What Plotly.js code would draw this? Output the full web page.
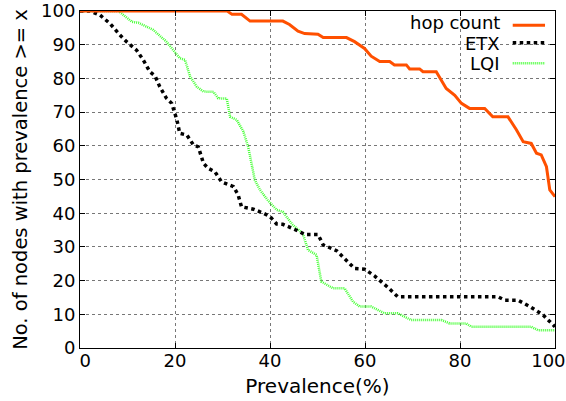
<!DOCTYPE html>
<html>
<head>
<meta charset="utf-8">
<script src="https://cdn.plot.ly/plotly-3.0.1.min.js"></script>
<style>html,body{margin:0;padding:0;background:#fff}#chart{width:566px;height:401px}</style>
</head>
<body>
<div id="chart"></div>
<script>
// Hop count series
const hopX = [0, 31, 32, 34, 35.8, 42.7, 44.1, 45.9, 47.3, 50.1, 51.2, 56.1, 57.8, 59.9, 61.3, 63.1, 65.2, 66.2, 68.7, 69.4, 71.5, 72.2, 75, 77.1, 78.9, 80.3, 82, 85.2, 86.9, 90.1, 91.9, 93.3, 95, 96.1, 97.1, 98.2, 98.9, 100];
const hopY = [100, 100, 99, 99, 97, 97, 96, 94, 93.3, 93.1, 92.1, 92.1, 90.9, 88.9, 86.6, 85, 85, 84, 84, 82.8, 82.8, 82, 82, 77, 75, 72.6, 71.1, 71.1, 68.6, 68.6, 64.7, 61.2, 60.7, 57.8, 57.3, 53.8, 46.9, 44.9];

// ETX series
const etxX = [0, 2.1, 4.2, 6.3, 8.4, 9.8, 11.9, 13.3, 14.7, 15.8, 16.8, 18.2, 19.3, 20.4, 21, 22.5, 23.9, 24.9, 26, 27, 28.4, 29.8, 32.3, 33.3, 34, 36.5, 38.6, 40, 41.4, 42.7, 45.5, 47.3, 50.1, 51.2, 54, 57.8, 59.9, 62, 64.8, 66.9, 88, 89.4, 92.2, 94.7, 97.5, 100];
const etxY = [100, 100, 98.8, 96.3, 92.9, 90.9, 88.4, 85.5, 82, 80.7, 77.5, 74.1, 72.6, 67.7, 63.7, 63.2, 60.2, 59.7, 54.8, 53.3, 52.3, 49.3, 47.9, 45.4, 41.9, 41.2, 40, 39, 36.8, 36.7, 35, 33.7, 33.7, 30.6, 28.9, 23.6, 23.4, 21.4, 18, 15.2, 15.2, 14.2, 14.2, 12.3, 9.8, 6.3];

// LQI series
const lqiX = [0, 8.1, 10.9, 12.3, 14.7, 15.4, 18.2, 19.6, 21, 22.1, 23.2, 24.6, 26, 28.1, 29.1, 30.9, 31.6, 33, 34.4, 35.4, 36.8, 37.9, 39.5, 41.4, 42.7, 44.8, 46.9, 48, 49.8, 50.8, 53.3, 55.7, 57.5, 58.9, 61.3, 62.7, 64.1, 66.9, 69.7, 76.1, 77.8, 81.3, 82.4, 95, 96.4, 100];
const lqiY = [100, 100, 96.8, 96.5, 94.9, 94.4, 90.9, 88.4, 86, 85.5, 80.5, 77.5, 76.1, 76, 74.1, 74, 68.6, 67.7, 64.2, 59.7, 49.9, 46.9, 43.9, 41, 40.4, 36.5, 34, 29.1, 27.6, 19.7, 17.7, 17.7, 13.7, 12.3, 12.3, 11.3, 10.3, 10.3, 8.3, 8.3, 7.3, 7.3, 6.3, 6.3, 5.3, 5.3];

const seriesNames = ['hop count', 'ETX', 'LQI'];
const xTicks = [0, 20, 40, 60, 80, 100];
const xTickLabels = ['0', '20', '40', '60', '80', '100'];
// label anchor positions (edge labels nudged inward, as in the reference)
const xLabelPos = [1.1, 20, 40, 60, 80, 98.6];
const yTicks = [0, 10, 20, 30, 40, 50, 60, 70, 80, 90, 100];

const hopColor = '#ff5000';
const etxColor = '#000000';
const lqiColor = '#44ff33';
const FONT = 'DejaVu Sans, sans-serif';

const traces = [
  {x: lqiX, y: lqiY, name: seriesNames[2], mode: 'lines', line: {color: lqiColor, width: 2.5, dash: '1px,1px'}},
  {x: etxX, y: etxY, name: seriesNames[1], mode: 'lines', line: {color: etxColor, width: 3.5, dash: 'dot'}},
  {x: hopX, y: hopY, name: seriesNames[0], mode: 'lines', line: {color: hopColor, width: 3}},
  // carrier for the tick-label axis (draws nothing)
  {x: [], y: [], xaxis: 'x2', yaxis: 'y', mode: 'lines', showlegend: false, hoverinfo: 'skip'}
];

const rowsY = [0.967, 0.905, 0.844];
const lineRowsY = [0.958, 0.906, 0.845];
const styles = [
  {color: hopColor, width: 3, dash: 'solid'},
  {color: etxColor, width: 3.5, dash: 'dot'},
  {color: lqiColor, width: 2.5, dash: '1px,1px'}
];
const annotations = seriesNames.map((n, i) => ({
  xref: 'paper', yref: 'paper', x: 0.888, y: rowsY[i], xanchor: 'right', yanchor: 'middle',
  text: n, showarrow: false, font: {family: FONT, size: 18, color: '#000'}
}));
const shapes = seriesNames.map((n, i) => ({
  type: 'line', xref: 'paper', yref: 'paper', x0: 0.911, x1: 0.979, y0: lineRowsY[i], y1: lineRowsY[i],
  line: styles[i]
}));

const layout = {
  width: 566, height: 401,
  margin: {l: 80, r: 11, t: 11, b: 53},
  paper_bgcolor: '#fff', plot_bgcolor: '#fff',
  showlegend: false,
  font: {family: FONT, size: 18, color: '#000'},
  xaxis: {
    range: [0, 100], tickvals: xTicks, showticklabels: false,
    showgrid: true, gridcolor: '#777', griddash: 'dot', gridwidth: 1,
    showline: true, linecolor: '#000', linewidth: 1, mirror: 'ticks',
    ticks: 'inside', ticklen: 5, tickcolor: '#000',
    zeroline: false
  },
  xaxis2: {
    overlaying: 'x', anchor: 'y', side: 'bottom',
    range: [0, 100], tickvals: xLabelPos, ticktext: xTickLabels,
    showgrid: false, showline: false, zeroline: false, ticks: '',
    tickfont: {family: FONT, size: 18, color: '#000'},
    title: {text: 'Prevalence(%)', font: {family: FONT, size: 20, color: '#000'}, standoff: 8}
  },
  yaxis: {
    range: [0, 100], tickvals: yTicks, ticktext: yTicks.map(String),
    showgrid: true, gridcolor: '#777', griddash: 'dot', gridwidth: 1,
    showline: true, linecolor: '#000', linewidth: 1, mirror: 'ticks',
    ticks: 'inside', ticklen: 5, tickcolor: '#000',
    ticklabeloverflow: 'allow',
    zeroline: false, tickfont: {family: FONT, size: 18, color: '#000'},
    title: {text: 'No. of nodes with prevalence >= x', font: {family: FONT, size: 19.5, color: '#000'}, standoff: 8}
  },
  annotations: annotations,
  shapes: shapes
};

Plotly.newPlot('chart', traces, layout, {displayModeBar: false, staticPlot: true});
</script>
</body>
</html>
